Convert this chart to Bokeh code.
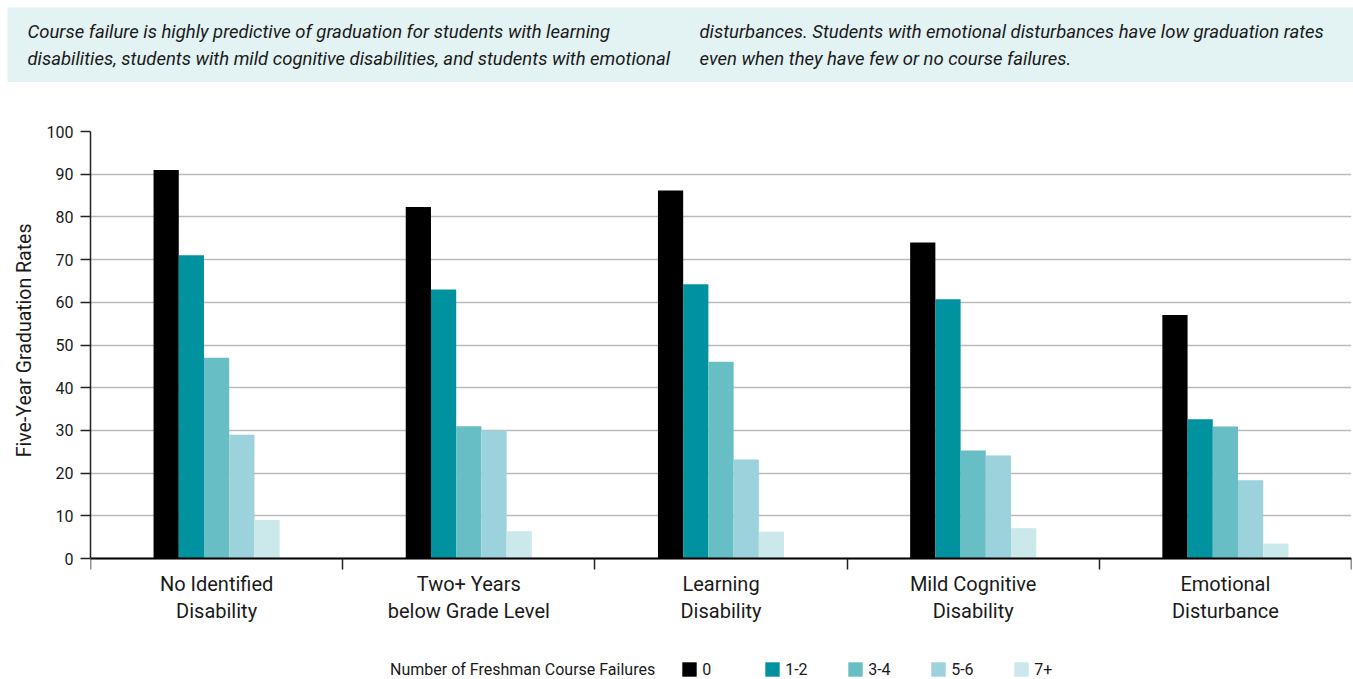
from bokeh.plotting import figure
from bokeh.models import Range1d, FixedTicker, Legend, LegendItem, Label, ColumnDataSource, Title
from bokeh.transform import dodge
from bokeh.embed import file_html
from bokeh.resources import INLINE

# ---------------- data ----------------
categories = ["No Identified\nDisability", "Two+ Years\nbelow Grade Level",
              "Learning\nDisability", "Mild Cognitive\nDisability",
              "Emotional\nDisturbance"]
series_names = ["0", "1-2", "3-4", "5-6", "7+"]
fail_0 = [91.0, 82.3, 86.2, 74.0, 57.0]
fail_1_2 = [71.0, 63.0, 64.2, 60.7, 32.6]
fail_3_4 = [47.0, 31.0, 46.1, 25.3, 30.9]
fail_5_6 = [29.0, 30.0, 23.2, 24.1, 18.3]
fail_7_plus = [9.0, 6.4, 6.3, 7.1, 3.5]
y_ticks = [0, 10, 20, 30, 40, 50, 60, 70, 80, 90, 100]
y_axis_title = "Five-Year Graduation Rates"
legend_title = "Number of Freshman Course Failures"
header_left = ["Course failure is highly predictive of graduation for students with learning",
               "disabilities, students with mild cognitive disabilities, and students with emotional"]
header_right = ["disturbances. Students with emotional disturbances have low graduation rates",
                "even when they have few or no course failures."]

series_values = [fail_0, fail_1_2, fail_3_4, fail_5_6, fail_7_plus]
colors = ["#000000", "#00929F", "#67BEC4", "#9CD2DB", "#CBE8EB"]
FONT = "Roboto"
TXT = "#1a1a1a"

# ---------------- header ----------------
W = 1353
H_HEAD = 82
H_MAIN = 597

head = figure(width=W, height=H_HEAD, output_backend="svg", toolbar_location=None,
              x_axis_location=None, y_axis_location=None,
              x_range=Range1d(0, 1), y_range=Range1d(0, 1),
              min_border_left=7, min_border_top=7, min_border_right=0, min_border_bottom=0,
              background_fill_color="#E3F2F3", border_fill_color="white",
              outline_line_color=None)
head.grid.visible = False
for col_x, lines in ((20, header_left), (692, header_right)):
    for k, t in enumerate(lines):
        head.add_layout(Label(x=col_x, y=51 - 27 * k, x_units="screen", y_units="screen",
                              text=t, text_font=FONT, text_font_style="italic",
                              text_font_size="18.5px", text_color=TXT,
                              text_baseline="middle", text_align="left"))

# ---------------- main chart ----------------
# frame spans from the 100 line down to the bottom of the page; the category
# axis is pinned at y = 0 so the legend can sit inside the frame below it
PX_PER_UNIT = 4.27
FRAME_TOP = 49
FRAME_BOTTOM_GAP = 0
frame_h = H_MAIN - FRAME_TOP - FRAME_BOTTOM_GAP
y_min = 100 - frame_h / PX_PER_UNIT

xpos = [i + 0.5 for i in range(len(categories))]
data = {"x": xpos}
for name, vals in zip(series_names, series_values):
    data["s" + name] = vals
src = ColumnDataSource(data)

p = figure(width=W, height=H_MAIN, output_backend="svg", toolbar_location=None,
           x_range=Range1d(0, len(categories)), y_range=Range1d(y_min, 100),
           min_border_left=90, min_border_right=2, min_border_top=FRAME_TOP,
           min_border_bottom=FRAME_BOTTOM_GAP,
           outline_line_color=None, background_fill_color="white")

offsets = [-0.2, -0.1, 0.0, 0.1, 0.2]
renderers = []
for name, off, c in zip(series_names, offsets, colors):
    r = p.vbar(x=dodge("x", off, range=p.x_range), top="s" + name, bottom=0, width=0.1,
               source=src, fill_color=c, line_color=None)
    renderers.append(r)

# invisible renderer that carries the legend title as the first legend entry
title_r = p.scatter(x=[0], y=[500], size=1, fill_alpha=0, line_alpha=0)

# grid
p.xgrid.visible = False
p.ygrid.ticker = FixedTicker(ticks=y_ticks)
p.ygrid.grid_line_color = "#BBBBBB"
p.ygrid.grid_line_width = 1.6

# y axis
p.yaxis.ticker = FixedTicker(ticks=y_ticks)
p.yaxis.bounds = (0, 100)
p.yaxis.axis_line_color = "#222222"
p.yaxis.axis_line_width = 1.5
p.yaxis.major_tick_in = 0
p.yaxis.major_tick_out = 10
p.yaxis.major_tick_line_color = "#222222"
p.yaxis.major_tick_line_width = 1.5
p.yaxis.minor_tick_line_color = None
p.yaxis.major_label_standoff = 7
p.yaxis.major_label_text_font = FONT
p.yaxis.major_label_text_font_size = "16px"
p.yaxis.major_label_text_color = TXT

# y axis title, centred on the 0-100 part of the axis
p.add_layout(Title(text=y_axis_title, align="right", offset=92, standoff=16,
                   text_font=FONT, text_font_size="19.5px", text_font_style="normal",
                   text_color=TXT), "left")

# x axis, pinned at y = 0
p.xaxis.fixed_location = 0
p.xaxis.ticker = FixedTicker(ticks=xpos, minor_ticks=list(range(len(categories) + 1)))
p.xaxis.major_label_overrides = {x: c for x, c in zip(xpos, categories)}
p.xaxis.major_tick_line_color = None
p.xaxis.major_tick_in = 0
p.xaxis.major_tick_out = 11
p.xaxis.minor_tick_in = 0
p.xaxis.minor_tick_out = 11
p.xaxis.minor_tick_line_color = "#222222"
p.xaxis.minor_tick_line_width = 1.5
p.xaxis.axis_line_color = "#000000"
p.xaxis.axis_line_width = 2
p.xaxis.major_label_standoff = 2
p.xaxis.major_label_text_font = FONT
p.xaxis.major_label_text_font_size = "20px"
p.xaxis.major_label_text_color = TXT
p.xaxis.major_label_text_line_height = 1.15

# legend (inside the frame, under the category labels; title as first entry)
items = [LegendItem(label=legend_title, renderers=[title_r])]
items += [LegendItem(label=n, renderers=[r]) for n, r in zip(series_names, renderers)]
legend = Legend(items=items, orientation="horizontal", location=(278, 0),
                glyph_width=18, glyph_height=18, label_standoff=4, label_width=36,
                spacing=25, padding=0, margin=0, border_line_color=None,
                background_fill_alpha=0, label_text_font=FONT,
                label_text_font_size="16px", label_text_color=TXT,
                label_height=20)
p.add_layout(legend)

open("out.html", "w").write(file_html([head, p], INLINE))
